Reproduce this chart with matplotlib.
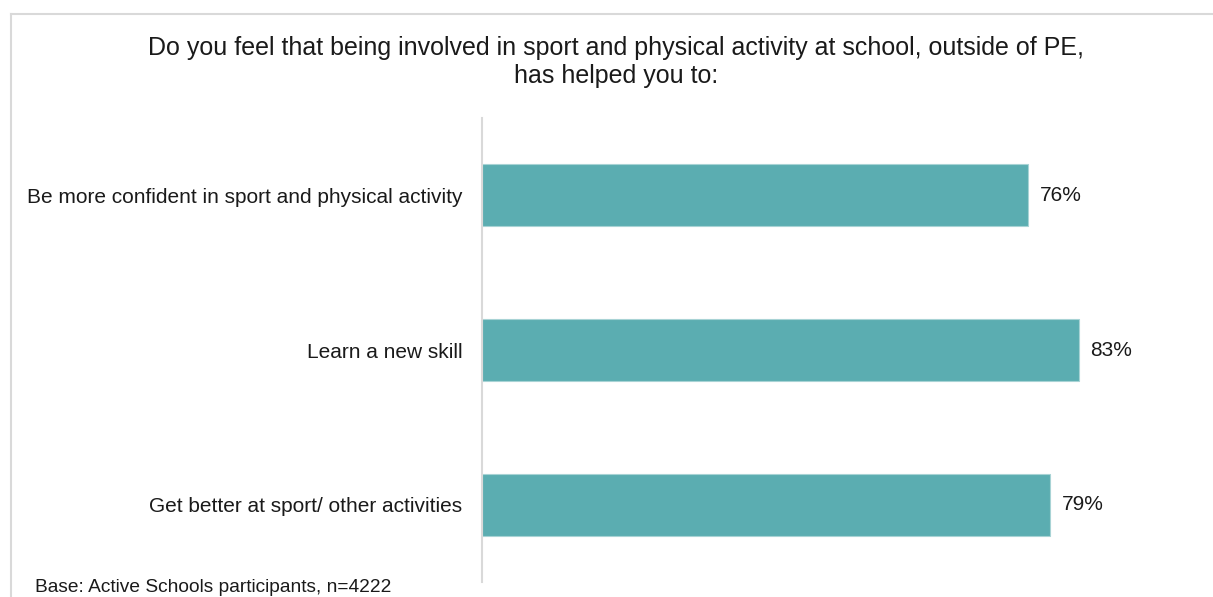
import matplotlib.pyplot as plt
from matplotlib.lines import Line2D

plt.rcParams['font.family'] = ['Liberation Sans', 'DejaVu Sans']

categories = ['Be more confident in sport and physical activity',
              'Learn a new skill',
              'Get better at sport/ other activities']
values = [76, 83, 79]

bar_color = '#5BADB1'
text_color = '#1a1a1a'
grid_gray = '#D9D9D9'

W, H = 1213, 597
fig = plt.figure(figsize=(W / 100, H / 100), dpi=100)

# chart area frame (top and left edges visible)
fig.add_artist(Line2D([11 / W, 1], [1 - 14 / H, 1 - 14 / H], color=grid_gray, lw=1.5))
fig.add_artist(Line2D([11 / W, 11 / W], [0, 1 - 14 / H], color=grid_gray, lw=1.5))

ax = fig.add_axes([482 / W, 1 - 582 / H, (1201 - 482) / W, (582 - 118) / H])
y = list(range(len(categories)))
ax.barh(y, values, height=0.4, color=bar_color, edgecolor='#A8D3D5', linewidth=0.8)
ax.set_xlim(0, 100)
ax.set_ylim(len(categories) - 0.5, -0.5)

for yi, v in zip(y, values):
    ax.text(v + 1.6, yi, f'{v}%', va='center', ha='left', fontsize=15, color=text_color)

ax.set_yticks(y)
ax.set_yticklabels(categories, fontsize=15, color=text_color)
ax.tick_params(axis='y', length=0, pad=14)
ax.set_xticks([])
for s in ['top', 'right', 'bottom']:
    ax.spines[s].set_visible(False)
ax.spines['left'].set_color(grid_gray)
ax.spines['left'].set_linewidth(1.5)

fig.text(616 / W, 1 - 62 / H,
         'Do you feel that being involved in sport and physical activity at school, outside of PE,\nhas helped you to:',
         ha='center', va='center', fontsize=18, color=text_color, linespacing=1.2)
fig.text(35 / W, 1 - 587 / H, 'Base: Active Schools participants, n=4222',
         ha='left', va='center', fontsize=13.8, color=text_color)

fig.savefig('out.png', dpi=100, facecolor='white')
